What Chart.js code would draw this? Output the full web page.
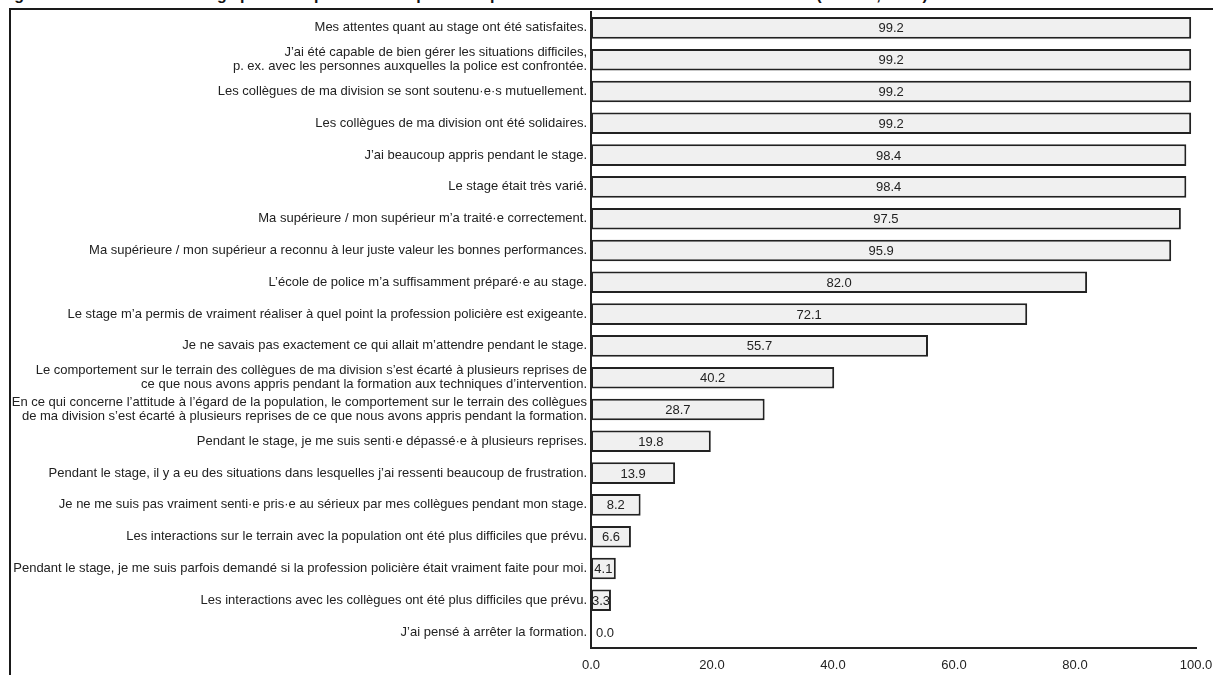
<!DOCTYPE html>
<html lang="fr">
<head>
<meta charset="utf-8">
<script src="https://cdn.jsdelivr.net/npm/chart.js@4.4.1/dist/chart.umd.min.js"></script>
<style>
  html, body { margin: 0; padding: 0; background: #fff; }
  body { width: 1213px; height: 675px; position: relative; overflow: hidden; }
  #titre {
    position: absolute; left: 0; top: -13px; white-space: nowrap;
    font: bold 16px Arial, "Liberation Sans", sans-serif; line-height: 15px; color: #111;
  }
  #cadre {
    position: absolute; left: 9px; top: 8px; right: -4px; bottom: -4px;
    border-top: 2px solid #1a1a1a; border-left: 2px solid #1a1a1a;
  }
  #zone { position: absolute; left: 0; top: 0; width: 1213px; height: 675px; }
</style>
</head>
<body>
<div id="titre">Figure 11 : Évaluation du stage par les aspirant·e·s : réponses « plutôt d’accord » et « tout à fait d’accord » (n = 122, en %)</div>
<div id="cadre"></div>
<div id="zone"><canvas id="graph" width="1213" height="675"></canvas></div>
<script>
const categories = [
  'Mes attentes quant au stage ont été satisfaites.',
  ['J’ai été capable de bien gérer les situations difficiles,', 'p. ex. avec les personnes auxquelles la police est confrontée.'],
  'Les collègues de ma division se sont soutenu·e·s mutuellement.',
  'Les collègues de ma division ont été solidaires.',
  'J’ai beaucoup appris pendant le stage.',
  'Le stage était très varié.',
  'Ma supérieure / mon supérieur m’a traité·e correctement.',
  'Ma supérieure / mon supérieur a reconnu à leur juste valeur les bonnes performances.',
  'L’école de police m’a suffisamment préparé·e au stage.',
  'Le stage m’a permis de vraiment réaliser à quel point la profession policière est exigeante.',
  'Je ne savais pas exactement ce qui allait m’attendre pendant le stage.',
  ['Le comportement sur le terrain des collègues de ma division s’est écarté à plusieurs reprises de', 'ce que nous avons appris pendant la formation aux techniques d’intervention.'],
  ['En ce qui concerne l’attitude à l’égard de la population, le comportement sur le terrain des collègues', 'de ma division s’est écarté à plusieurs reprises de ce que nous avons appris pendant la formation.'],
  'Pendant le stage, je me suis senti·e dépassé·e à plusieurs reprises.',
  'Pendant le stage, il y a eu des situations dans lesquelles j’ai ressenti beaucoup de frustration.',
  'Je ne me suis pas vraiment senti·e pris·e au sérieux par mes collègues pendant mon stage.',
  'Les interactions sur le terrain avec la population ont été plus difficiles que prévu.',
  'Pendant le stage, je me suis parfois demandé si la profession policière était vraiment faite pour moi.',
  'Les interactions avec les collègues ont été plus difficiles que prévu.',
  'J’ai pensé à arrêter la formation.'
];
const pourcentages = [99.2, 99.2, 99.2, 99.2, 98.4, 98.4, 97.5, 95.9, 82.0, 72.1, 55.7, 40.2, 28.7, 19.8, 13.9, 8.2, 6.6, 4.1, 3.3, 0.0];
const ticksX = [0, 20, 40, 60, 80, 100];

const police = 'Arial, "Liberation Sans", sans-serif';

// valeurs écrites au milieu de chaque barre
const etiquettes = {
  id: 'etiquettes',
  afterDatasetsDraw(chart) {
    const ctx = chart.ctx;
    const meta = chart.getDatasetMeta(0);
    ctx.save();
    ctx.font = '13px ' + police;
    ctx.fillStyle = '#222';
    ctx.textAlign = 'center';
    ctx.textBaseline = 'middle';
    meta.data.forEach((bar, i) => {
      const w = bar.x - bar.base;
      const x = w < 1 ? bar.base + 14 : bar.base + w / 2;
      ctx.fillText(pourcentages[i].toFixed(1), x, bar.y + 1);
    });
    ctx.restore();
  }
};

new Chart(document.getElementById('graph'), {
  type: 'bar',
  data: {
    labels: categories,
    datasets: [{
      data: pourcentages,
      backgroundColor: '#f0f0f0',
      borderColor: '#222',
      borderWidth: 2,
      borderSkipped: false,
      barPercentage: 0.68,
      categoryPercentage: 1
    }]
  },
  options: {
    indexAxis: 'y',
    responsive: false,
    animation: false,
    devicePixelRatio: 1,
    layout: { padding: { left: 10, right: 17, top: 12, bottom: 0 } },
    plugins: { legend: { display: false }, tooltip: { enabled: false } },
    scales: {
      x: {
        min: 0, max: 100,
        afterBuildTicks(scale) { scale.ticks = ticksX.map(v => ({ value: v })); },
        afterFit(scale) {
          scale.height = 27;
          // laisser « 100.0 » déborder à droite au lieu de rétrécir l'axe
          scale.paddingLeft = 0;
          scale.paddingRight = 0;
        },
        grid: { display: false, drawTicks: false },
        border: { display: true, color: '#222', width: 2 },
        ticks: {
          padding: 10, color: '#222', maxRotation: 0,
          font: { family: police, size: 13 },
          callback: v => v.toFixed(1)
        }
      },
      y: {
        afterFit(scale) { scale.width = 581; },
        grid: { display: false, drawTicks: false },
        border: { display: true, color: '#222', width: 2 },
        ticks: {
          padding: 4, color: '#222', autoSkip: false,
          font: { family: police, size: 13, lineHeight: 1.08 }
        }
      }
    }
  },
  plugins: [etiquettes]
});
</script>
</body>
</html>
